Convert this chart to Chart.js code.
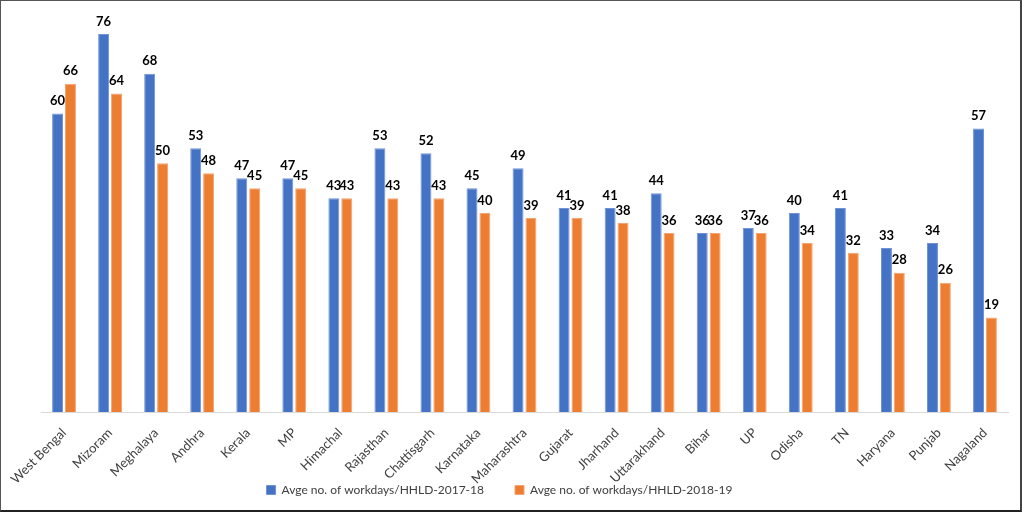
<!DOCTYPE html>
<html>
<head>
<meta charset="utf-8">
<script src="https://cdn.jsdelivr.net/npm/chart.js@4"></script>
<style>
  html, body { margin: 0; padding: 0; background: #fff; }
  #wrap { position: relative; width: 1022px; height: 512px; box-sizing: border-box;
          border: 1px solid #555; border-bottom: 2px solid #222; border-right: 2px solid #444; }
  canvas { display: block; }
</style>
</head>
<body>
<div id="wrap"><canvas id="c" width="1019" height="509"></canvas></div>
<script>
const categories = ["West Bengal","Mizoram","Meghalaya","Andhra","Kerala","MP","Himachal","Rajasthan","Chattisgarh","Karnataka","Maharashtra","Gujarat","Jharhand","Uttarakhand","Bihar","UP","Odisha","TN","Haryana","Punjab","Nagaland"];
const series1Name = "Avge no. of workdays/HHLD-2017-18";
const series2Name = "Avge no. of workdays/HHLD-2018-19";
const series1 = [60,76,68,53,47,47,43,53,52,45,49,41,41,44,36,37,40,41,33,34,57];
const series2 = [66,64,50,48,45,45,43,43,43,40,39,39,38,36,36,36,34,32,28,26,19];

const labelPlugin = {
  id: 'valueLabels',
  afterLayout(chart) {
    const lg = chart.legend;
    if (lg) {
      lg.left -= 25; lg.right -= 25;
      lg.top = 452; lg.bottom = chart.height;
    }
  },
  afterDatasetsDraw(chart) {
    const ctx = chart.ctx;
    ctx.save();
    ctx.font = 'bold 13px Lato';
    ctx.fillStyle = '#000';
    ctx.textAlign = 'center';
    ctx.textBaseline = 'bottom';
    chart.data.datasets.forEach((ds, i) => {
      const meta = chart.getDatasetMeta(i);
      meta.data.forEach((el, j) => {
        ctx.fillText(String(ds.data[j]), el.x, el.y - 6);
      });
    });
    ctx.restore();
  }
};

new Chart(document.getElementById('c'), {
  type: 'bar',
  data: {
    labels: categories,
    datasets: [
      { label: series1Name, data: series1, backgroundColor: '#4472C4', borderColor: '#6f93d6', borderWidth: 1, categoryPercentage: 0.56, barPercentage: 0.85 },
      { label: series2Name, data: series2, backgroundColor: '#ED7D31', borderColor: '#f4a470', borderWidth: 1, categoryPercentage: 0.56, barPercentage: 0.85 }
    ]
  },
  options: {
    responsive: false,
    animation: false,
    devicePixelRatio: 1,
    layout: { padding: { top: 13, right: 12, left: 40, bottom: 0 } },
    plugins: {
      legend: {
        position: 'bottom',
        maxHeight: 18,
        labels: { boxWidth: 9, boxHeight: 9, padding: 31, color: '#404040', font: { family: 'Lato', size: 12 } }
      },
      tooltip: { enabled: false }
    },
    scales: {
      x: {
        grid: { display: false },
        border: { display: true, color: '#d9d9d9' },
        ticks: { autoSkip: false, minRotation: 45, maxRotation: 45, color: '#404040', font: { family: 'Lato', size: 13 }, padding: 5 }
      },
      y: {
        display: false,
        min: 0, max: 80
      }
    }
  },
  plugins: [labelPlugin]
});
</script>
</body>
</html>
